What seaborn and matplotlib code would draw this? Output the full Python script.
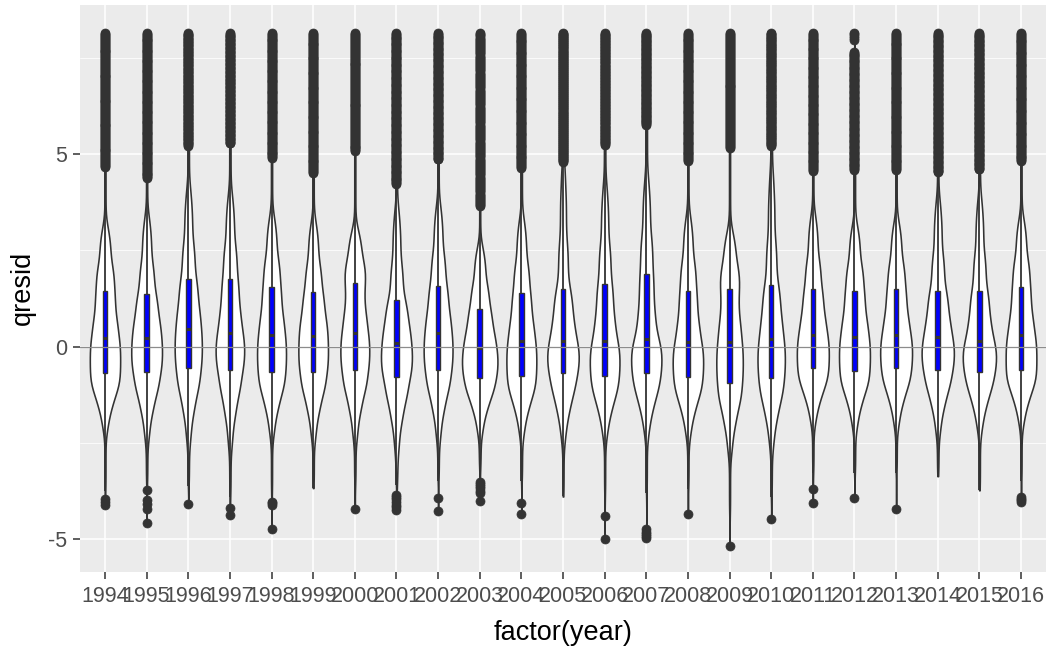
import numpy as np
import pandas as pd
import matplotlib
matplotlib.use("Agg")
import matplotlib.pyplot as plt
import seaborn as sns

# ---- per-year summary of the quantile residuals ----
years = [str(y) for y in range(1994, 2017)]

q1 = [-0.69, -0.65, -0.56, -0.60, -0.65, -0.65, -0.60, -0.79, -0.60, -0.80, -0.76, -0.69,
      -0.76, -0.69, -0.79, -0.93, -0.80, -0.56, -0.63, -0.56, -0.60, -0.65, -0.60]
median = [0.22, 0.24, 0.45, 0.35, 0.30, 0.28, 0.35, 0.09, 0.35, -0.03, 0.16, 0.16,
          0.16, 0.20, 0.11, 0.11, 0.20, 0.30, 0.26, 0.30, 0.24, 0.16, 0.30]
q3 = [1.45, 1.36, 1.75, 1.75, 1.56, 1.41, 1.66, 1.21, 1.58, 0.97, 1.40, 1.50,
      1.64, 1.89, 1.45, 1.50, 1.60, 1.49, 1.45, 1.50, 1.45, 1.45, 1.56]
# lowest value inside the lower whisker
whisk_lo = [-3.75, -3.59, -3.63, -3.90, -3.85, -3.68, -3.60, -3.60, -3.50, -3.20, -3.50, -3.90,
            -3.90, -3.80, -3.70, -4.40, -3.90, -3.30, -3.30, -3.30, -3.37, -3.74, -3.50]
# where the bulk of the distribution ends at the bottom and at the top
body_lo = [-2.16, -2.40, -2.46, -2.60, -2.30, -2.40, -2.40, -2.70, -2.40, -2.25, -2.29, -2.42,
           -2.33, -2.29, -2.33, -2.77, -2.59, -1.99, -2.12, -2.07, -2.25, -2.20, -2.03]
body_hi = [3.16, 3.42, 4.15, 4.00, 3.42, 3.29, 3.08, 3.63, 3.72, 2.64, 3.37, 4.67,
           4.24, 4.41, 3.42, 3.03, 4.54, 3.46, 3.20, 3.29, 3.85, 3.89, 3.37]
# largest residual of the continuous upper tail
tail_max = [8.15, 8.15, 8.15, 8.15, 8.15, 8.15, 8.15, 8.15, 8.15, 8.15, 8.15, 8.15,
            8.15, 8.15, 8.15, 8.15, 8.15, 8.15, 7.66, 8.15, 8.15, 8.15, 8.15]

low_outliers = {
    "1994": [-3.95, -4.02, -4.10],
    "1995": [-3.73, -3.98, -4.08, -4.20, -4.58],
    "1996": [-4.08],
    "1997": [-4.18, -4.37],
    "1998": [-4.02, -4.06, -4.12, -4.74],
    "2000": [-4.22],
    "2001": [-3.84, -3.89, -3.95, -4.02, -4.10, -4.17, -4.24],
    "2002": [-3.92, -4.26],
    "2003": [-3.52, -3.57, -3.62, -3.68, -3.74, -3.80, -4.00],
    "2004": [-4.05, -4.35],
    "2006": [-4.40, -4.98],
    "2007": [-4.74, -4.80, -4.86, -4.92, -4.97],
    "2008": [-4.35],
    "2009": [-5.17],
    "2010": [-4.47],
    "2011": [-3.70, -4.06],
    "2012": [-3.92],
    "2013": [-4.21],
    "2016": [-3.90, -3.94, -3.98, -4.02],
}
high_extra = {"2012": [7.97, 8.02, 8.06, 8.11, 8.15]}

# cumulative levels of the quantile anchors:
# whisk_lo, body_lo, 2 lower steps, q1, median, 1 mid step, q3, 2 upper steps, body_hi, tail_max
anchor_p = [0.0, 0.015, 0.05, 0.12, 0.25, 0.50, 0.62, 0.75, 0.855, 0.925, 0.95, 1.0]
lower_frac = [0.36, 0.67]   # position of the lower steps between body_lo and q1
mid_frac = 0.42             # position of the mid step between median and q3
upper_frac = [0.38, 0.79]   # position of the upper steps between q3 and body_hi
n_obs = 4000

probs = (np.arange(n_obs) + 0.5) / n_obs
rec_year, rec_val = [], []
for i, yr in enumerate(years):
    lo_mid = [body_lo[i] + f * (q1[i] - body_lo[i]) for f in lower_frac]
    md = median[i] + mid_frac * (q3[i] - median[i])
    hi_mid = [q3[i] + f * (body_hi[i] - q3[i]) for f in upper_frac]
    anchor_v = ([whisk_lo[i], body_lo[i]] + lo_mid + [q1[i], median[i], md, q3[i]]
                + hi_mid + [body_hi[i], tail_max[i]])
    vals = np.concatenate([np.interp(probs, anchor_p, anchor_v),
                           low_outliers.get(yr, []), high_extra.get(yr, [])])
    rec_year += [yr] * len(vals)
    rec_val += list(vals)

df = pd.DataFrame({"year": rec_year, "qresid": rec_val})

# ---- styling ----
sns.set_theme(rc={
    "axes.facecolor": "#EBEBEB",
    "figure.facecolor": "white",
    "axes.edgecolor": "#EBEBEB",
    "grid.color": "white",
    "axes.unicode_minus": False,
})
plt.rcParams["font.family"] = ["Liberation Sans", "DejaVu Sans"]

fig = plt.figure(figsize=(10.53, 6.53), dpi=100)
ax = fig.add_axes([80 / 1053, (653 - 571.7) / 653, (1046 - 80) / 1053, (571.7 - 5) / 653])

sns.violinplot(data=df, x="year", y="qresid", order=years, cut=0, inner=None,
               color="white", saturation=1, linecolor="#333333", linewidth=1.15,
               width=0.85, bw_adjust=0.75, density_norm="area", ax=ax)

sns.boxplot(data=df, x="year", y="qresid", order=years, width=0.11,
            color="#0000FF", saturation=1, linecolor="#333333", linewidth=1.0,
            fliersize=6.5,
            flierprops=dict(marker="o", markerfacecolor="#333333",
                            markeredgecolor="#333333", markersize=6.5,
                            markeredgewidth=0.5),
            whiskerprops=dict(color="#333333", linewidth=1.3),
            medianprops=dict(color="#333333", linewidth=2.2),
            showcaps=False, ax=ax)

ax.axhline(0, color="#8c8c8c", linewidth=0.9, zorder=6)

ax.set_xlim(-0.6, 22.6)
ax.set_ylim(-5.84, 8.87)
ax.set_yticks([-5, 0, 5])
ax.set_yticklabels(["-5", "0", "5"])
ax.set_yticks([-2.5, 2.5, 7.5], minor=True)

ax.grid(True, which="major", color="white", linewidth=1.1)
ax.grid(True, which="minor", axis="y", color="white", linewidth=0.55)
ax.set_axisbelow(True)
for sp in ax.spines.values():
    sp.set_visible(False)

ax.tick_params(axis="both", which="major", length=5, width=1.1, color="#333333",
               labelcolor="#4D4D4D", labelsize=15.5)
ax.tick_params(axis="x", which="major", pad=5.5)
ax.tick_params(axis="y", which="major", pad=4)
ax.tick_params(axis="y", which="minor", length=0)
ax.tick_params(axis="x", bottom=True)
ax.tick_params(axis="y", left=True)

ax.set_xlabel("factor(year)", fontsize=19.5, color="black", labelpad=9)
ax.set_ylabel("qresid", fontsize=19.5, color="black", labelpad=9)

fig.savefig("out.png", dpi=100)
